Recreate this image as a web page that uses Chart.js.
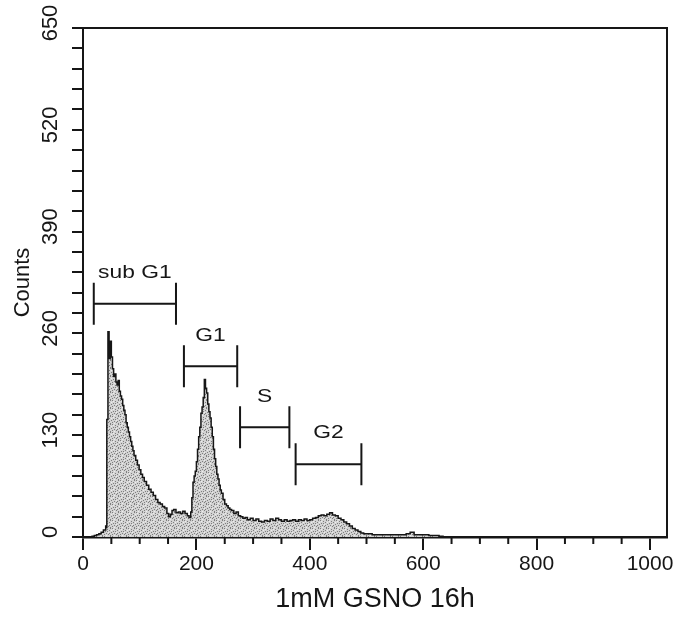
<!DOCTYPE html>
<html><head><meta charset="utf-8">
<script src="https://cdn.jsdelivr.net/npm/chart.js@4/dist/chart.umd.min.js"></script>
<style>html,body{margin:0;padding:0;background:#fff}#wrap{width:683px;height:638px;position:relative}</style>
</head><body><div id="wrap"><canvas id="c"></canvas></div>
<script>
const channels = [0,10,16,20,24,28,32,36,40,41,42,44,46,48,50,52,54,56,58,60,62,64,66,68,70,72,74,76,78,80,82,84,86,88,90,93,96,99,102,105,108,112,116,120,124,128,132,136,140,144,148,151,154,157,160,164,168,172,176,180,184,187,190,192,194,196,198,200,202,204,206,208,210,212,214,216,218,220,222,224,226,228,230,232,234,236,238,240,242,244,247,250,253,256,259,262,266,270,274,278,282,286,290,295,300,305,310,315,320,325,330,335,340,345,350,355,360,365,370,375,380,385,390,395,400,405,410,415,420,425,430,435,440,445,450,455,460,465,470,475,480,485,490,495,500,510,520,530,540,550,560,570,577,584,590,600,610,620,628,635];
const counts = [0,0,1,2,3,4,6,9,14,12,150,262,228,250,230,215,205,208,198,194,200,186,180,176,168,162,156,146,140,134,128,122,116,110,104,98,92,86,80,76,71,66,61,57,53,48,44,42,39,37,30,26,29,34,35,31,32,30,33,30,27,25,32,50,70,78,84,96,112,128,140,158,166,178,201,190,184,170,160,152,140,128,112,100,90,80,74,66,60,56,48,42,40,37,35,34,30,32,27,26,24,25,22,24,21,23,20,19,21,20,23,21,24,22,20,22,20,21,22,20,22,21,23,21,22,24,25,27,28,27,29,31,28,27,24,22,19,17,14,11,9,7,5,4,4,3,3,3,3,3,3,4,6,3,3,3,2,2,1,0];
const xTicks = [0,200,400,600,800,1000];
const yTicks = [0,130,260,390,520,650];
const gateNames = ['sub G1','G1','S','G2'];
const gateStart = [19,178,277,375];
const gateEnd = [164,272,364,491];
const gateLevel = [298,218,140,93];
const xTitle = '1mM GSNO 16h';
const yTitle = 'Counts';

const FONT = '"Liberation Sans", Arial, Helvetica, sans-serif';
const INK = '#161616';

function makePattern(){
  const c = document.createElement('canvas'); c.width = 8; c.height = 8;
  const g = c.getContext('2d');
  g.fillStyle = '#d2d2d2'; g.fillRect(0,0,8,8);
  g.fillStyle = '#7e7e7e';
  const dots = [[0,0],[3,1],[6,0],[1,3],[5,2],[7,4],[2,5],[4,6],[6,7],[0,6],[3,3],[5,5]];
  dots.forEach(d => g.fillRect(d[0], d[1], 1, 1));
  g.fillStyle = '#ececec';
  [[1,1],[4,4],[7,2],[2,7]].forEach(d => g.fillRect(d[0], d[1], 1, 1));
  return g.createPattern(c,'repeat');
}

const overlay = {
  id: 'overlay',
  afterDatasetsDraw(chart){
    const {ctx, chartArea: a, scales: {x, y}} = chart;
    ctx.save();
    ctx.strokeStyle = INK; ctx.lineWidth = 2;
    ctx.beginPath();
    ctx.moveTo(a.left, a.top); ctx.lineTo(a.right, a.top); ctx.lineTo(a.right, a.bottom);
    ctx.stroke();
    // minor x ticks
    for (let i = 0; i < xTicks.length - 1; i++) {
      const step = (xTicks[i+1] - xTicks[i]) / 4;
      for (let k = 1; k < 4; k++) {
        const px = x.getPixelForValue(xTicks[i] + k*step);
        ctx.beginPath(); ctx.moveTo(px, a.bottom); ctx.lineTo(px, a.bottom + 7); ctx.stroke();
      }
    }
    // gates
    ctx.font = '19px ' + FONT; ctx.textAlign = 'center'; ctx.textBaseline = 'middle'; ctx.fillStyle = INK;
    gateNames.forEach((n, i) => {
      const x0 = x.getPixelForValue(gateStart[i]), x1 = x.getPixelForValue(gateEnd[i]);
      const py = y.getPixelForValue(gateLevel[i]);
      ctx.beginPath();
      ctx.moveTo(x0, py); ctx.lineTo(x1, py);
      ctx.moveTo(x0, py - 21); ctx.lineTo(x0, py + 21);
      ctx.moveTo(x1, py - 21); ctx.lineTo(x1, py + 21);
      ctx.stroke();
      ctx.save();
      ctx.translate((x0 + x1) / 2, py - 31);
      ctx.scale(1.2, 1);
      ctx.fillText(n, 0, 0);
      ctx.restore();
    });
    ctx.restore();
  }
};

new Chart(document.getElementById('c'), {
  type: 'line',
  data: {
    datasets: [{
      data: channels.map((c, i) => ({x: c, y: counts[i]})),
      stepped: true,
      fill: 'origin',
      backgroundColor: makePattern(),
      borderColor: INK,
      borderWidth: 1.5,
      pointRadius: 0
    }]
  },
  options: {
    responsive: true,
    maintainAspectRatio: false,
    animation: false,
    layout: {padding: {left: 10, top: 28, right: 16, bottom: 22}},
    plugins: {legend: {display: false}, tooltip: {enabled: false}},
    scales: {
      x: {
        type: 'linear', min: 0, max: 1030,
        afterBuildTicks(s){ s.ticks = xTicks.map(v => ({value: v})); },
        afterFit(s){ s.height = 638 - 22 - 537; },
        border: {display: true, color: INK, width: 2.5},
        grid: {drawOnChartArea: false, drawTicks: true, tickLength: 13, color: INK, lineWidth: 2},
        ticks: {autoSkip: false, maxRotation: 0, color: INK,
                font: {family: FONT, size: 21}, padding: 2,
                callback: v => String(v)},
        title: {display: true, text: xTitle, color: INK, padding: 0, font: {family: FONT, size: 27}}
      },
      y: {
        type: 'linear', min: 0, max: 650,
        afterFit(s){ s.width = 83 - 10; },
        border: {display: true, color: INK, width: 2},
        grid: {drawOnChartArea: false, drawTicks: true, tickLength: 11, color: INK, lineWidth: 2},
        ticks: {stepSize: 26, autoSkip: false, minRotation: 90, maxRotation: 90, crossAlign: 'center',
                color: INK, padding: 3, labelOffset: -5, font: {family: FONT, size: 22},
                callback: v => yTicks.includes(v) ? String(v) : ''},
        title: {display: true, text: yTitle, color: INK, padding: 0, font: {family: FONT, size: 22}}
      }
    }
  },
  plugins: [overlay]
});
</script>
</body></html>
